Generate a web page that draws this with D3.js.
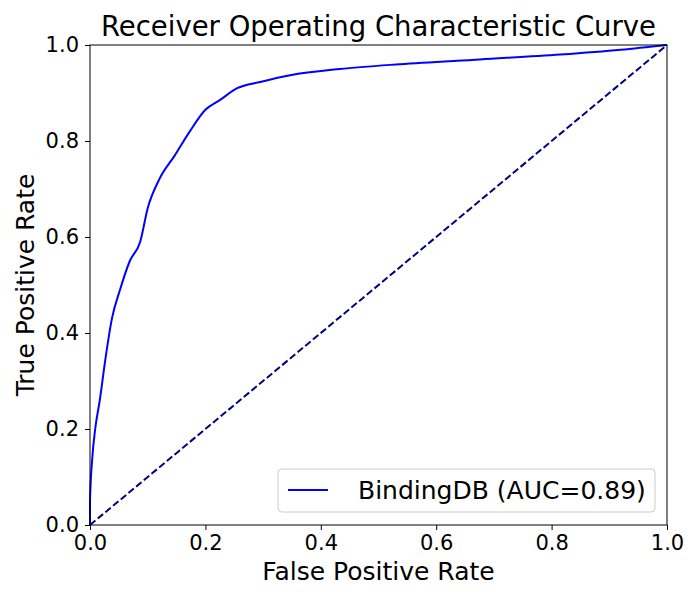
<!DOCTYPE html>
<html><head><meta charset="utf-8">
<script src="https://cdn.jsdelivr.net/npm/d3@7"></script>
<style>body{margin:0;background:#fff;font-family:"DejaVu Sans",sans-serif}</style>
</head><body><div id="chart"></div>
<script>
// ROC curve points
const fpr = [0, 0, 0.004, 0.009, 0.017, 0.026, 0.038, 0.052, 0.069, 0.087, 0.10, 0.12, 0.147, 0.173, 0.2, 0.225, 0.255, 0.295, 0.347, 0.433, 0.537, 0.676, 0.815, 0.92, 1];
const tpr = [0, 0.05, 0.14, 0.2, 0.26, 0.34, 0.43, 0.49, 0.55, 0.59, 0.66, 0.72, 0.77, 0.82, 0.865, 0.885, 0.91, 0.923, 0.937, 0.95, 0.96, 0.97, 0.98, 0.99, 1];
const ticks = [0, 0.2, 0.4, 0.6, 0.8, 1.0];
const legendLabel = "BindingDB (AUC=0.89)";

const W = 700, H = 600;
const M = {top: 45, right: 33, bottom: 75, left: 90};
const svg = d3.select("#chart").append("svg").attr("width", W).attr("height", H);
const x = d3.scaleLinear().domain([0, 1]).range([M.left, W - M.right]);
const y = d3.scaleLinear().domain([0, 1]).range([H - M.bottom, M.top]);

// Diagonal reference
svg.append("line")
    .attr("x1", x(0)).attr("y1", y(0)).attr("x2", x(1)).attr("y2", y(1))
    .attr("stroke", "navy").attr("stroke-width", 2).attr("stroke-dasharray", "7,3");

// ROC curve
const pts = fpr.map((f, i) => [f, tpr[i]]);
svg.append("path")
    .datum(pts)
    .attr("d", d3.line().x(d => x(d[0])).y(d => y(d[1])).curve(d3.curveMonotoneX))
    .attr("fill", "none").attr("stroke", "blue").attr("stroke-width", 2);

// Axes
const xa = svg.append("g").attr("transform", `translate(0,${y(0)})`)
    .call(d3.axisBottom(x).tickValues(ticks).tickFormat(d3.format(".1f")).tickSizeOuter(0).tickSize(5).tickPadding(5));
const ya = svg.append("g").attr("transform", `translate(${x(0)},0)`)
    .call(d3.axisLeft(y).tickValues(ticks).tickFormat(d3.format(".1f")).tickSizeOuter(0).tickSize(5).tickPadding(6));
[xa, ya].forEach(a => {
    a.selectAll("text").attr("font-size", 21).attr("font-family", "DejaVu Sans").attr("fill", "#000");
    a.selectAll("line").attr("stroke", "#000");
    a.select(".domain").remove();
});
svg.append("rect").attr("x", x(0)).attr("y", y(1))
    .attr("width", x(1) - x(0)).attr("height", y(0) - y(1))
    .attr("fill", "none").attr("stroke", "#000");

// Titles
svg.append("text").attr("x", (x(0) + x(1)) / 2).attr("y", 36).attr("text-anchor", "middle")
    .attr("font-size", 27.5).text("Receiver Operating Characteristic Curve");
svg.append("text").attr("x", (x(0) + x(1)) / 2).attr("y", 580).attr("text-anchor", "middle")
    .attr("font-size", 25).text("False Positive Rate");
svg.append("text").attr("transform", `translate(34,${(y(0) + y(1)) / 2}) rotate(-90)`)
    .attr("text-anchor", "middle").attr("font-size", 25).text("True Positive Rate");

// Legend
const lg = svg.append("g").attr("transform", "translate(278,469)");
lg.append("rect").attr("width", 377).attr("height", 43).attr("rx", 4)
    .attr("fill", "#fff").attr("stroke", "#ccc");
lg.append("line").attr("x1", 10).attr("x2", 50).attr("y1", 21).attr("y2", 21)
    .attr("stroke", "blue").attr("stroke-width", 2);
lg.append("text").attr("x", 80).attr("y", 30).attr("font-size", 25).text(legendLabel);
</script></body></html>
